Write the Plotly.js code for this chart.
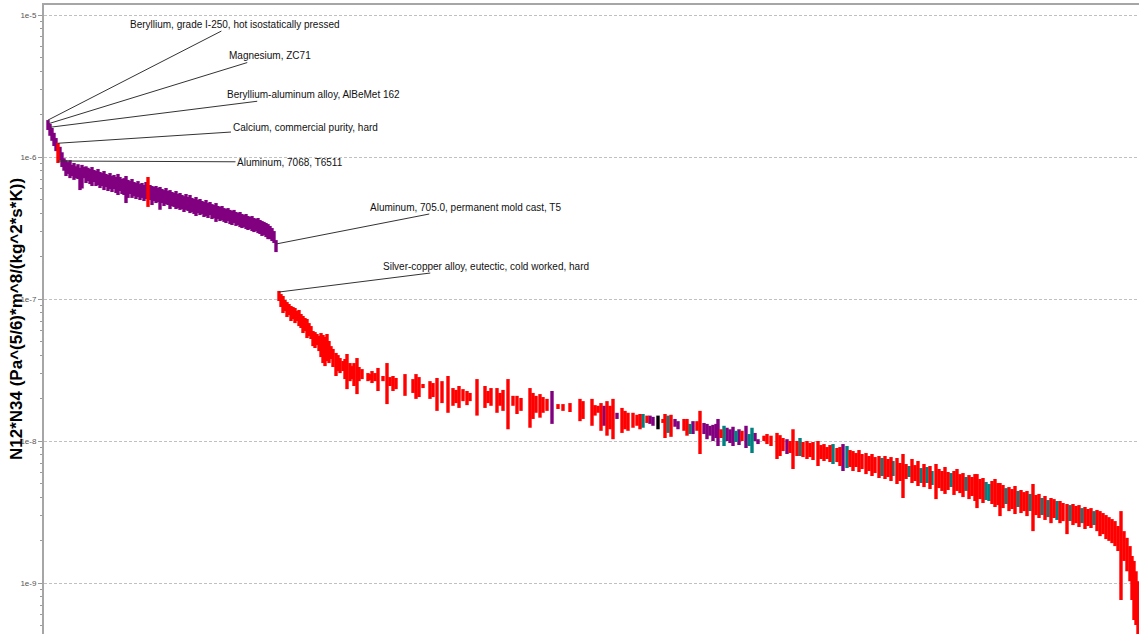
<!DOCTYPE html>
<html>
<head>
<meta charset="utf-8">
<script src="https://cdn.plot.ly/plotly-3.0.1.min.js"></script>
<style>html,body{margin:0;padding:0;background:#fff;}#chart{width:1139px;height:634px;}</style>
</head>
<body>
<div id="chart"></div>
<script>
// ---- data: material rank (sorted) and low/high value of N12*N34 ----
const purpleRank = [4,6,8,10,12,16,18,20,22,24,26,28,30,32,34,36,38,40,42,44,46,48,50,52,54,56,58,60,62,64,66,68,70,72,74,76,78,80,82,
  84,86,88,90,92,94,96,98,100,102,106,108,110,112,114,116,
  118,120,122,124,126,128,130,132,134,136,138,140,142,144,146,148,150,152,154,156,158,160,162,164,166,168,170,172,174,176,178,180,182,184,186,188,190,192,194,196,198,200,202,204,206,208,210,212,214,216,218,220,222,224,226,228,230,232,
  508,560,573,606,609,631,634,649,660,663,666,669,672,674,683,686,689,695,702,711,714,743,799];
const purpleHigh = [1.82e-6,1.71e-6,1.60e-6,1.48e-6,1.36e-6,1.18e-6,1.08e-6,9.8e-7,9.5e-7,9.2e-7,9.5e-7,8.8e-7,9.07e-7,8.6e-7,8.9e-7,8.4e-7,8.8e-7,8.5e-7,8.6e-7,8.4e-7,8.23e-7,8.5e-7,8.1e-7,7.97e-7,8.23e-7,7.84e-7,7.71e-7,7.97e-7,7.6e-7,7.47e-7,7.71e-7,7.35e-7,7.47e-7,7.23e-7,7.6e-7,7.23e-7,7.0e-7,7.1e-7,7.35e-7,
  6.9e-7,6.77e-7,7.0e-7,6.67e-7,6.56e-7,6.77e-7,6.45e-7,6.56e-7,6.35e-7,6.67e-7,6.35e-7,6.25e-7,6.15e-7,6.25e-7,6.05e-7,6.15e-7,
  5.95e-7,5.85e-7,6.05e-7,5.76e-7,5.85e-7,5.67e-7,5.58e-7,5.76e-7,5.49e-7,5.58e-7,5.4e-7,5.3e-7,5.49e-7,5.23e-7,5.4e-7,5.15e-7,5.06e-7,5.23e-7,4.98e-7,5.06e-7,4.9e-7,4.82e-7,4.98e-7,4.74e-7,4.82e-7,4.66e-7,4.59e-7,4.74e-7,4.52e-7,4.45e-7,4.52e-7,4.37e-7,4.3e-7,4.37e-7,4.24e-7,4.17e-7,4.24e-7,4.1e-7,4.03e-7,4.1e-7,3.97e-7,3.9e-7,3.97e-7,3.84e-7,3.78e-7,3.84e-7,3.72e-7,3.66e-7,3.72e-7,3.6e-7,3.54e-7,3.49e-7,3.43e-7,3.37e-7,3.27e-7,3.16e-7,3.01e-7,2.6e-7,
  2.25e-8,1.77e-8,1.58e-8,1.51e-8,1.48e-8,1.43e-8,1.38e-8,1.38e-8,1.34e-8,1.32e-8,1.28e-8,1.30e-8,1.32e-8,1.43e-8,1.24e-8,1.21e-8,1.26e-8,1.21e-8,1.28e-8,1.14e-8,1.03e-8,1.03e-8,9.52e-9];
const purpleLow = [1.55e-6,1.41e-6,1.30e-6,1.195e-6,1.10e-6,9.5e-7,8.5e-7,8.0e-7,7.35e-7,7.6e-7,7.1e-7,7.35e-7,6.9e-7,7.1e-7,7.0e-7,5.85e-7,6.0e-7,7.1e-7,6.56e-7,6.77e-7,6.45e-7,6.25e-7,6.67e-7,6.25e-7,6.35e-7,6.05e-7,6.25e-7,5.85e-7,6.15e-7,5.76e-7,5.95e-7,5.67e-7,5.95e-7,5.58e-7,5.4e-7,5.76e-7,5.49e-7,5.4e-7,4.74e-7,
  5.15e-7,5.49e-7,5.15e-7,5.3e-7,5.06e-7,5.23e-7,4.98e-7,5.15e-7,4.9e-7,5.06e-7,4.98e-7,4.59e-7,4.9e-7,4.74e-7,4.82e-7,4.25e-7,
  4.74e-7,4.52e-7,4.66e-7,4.59e-7,4.3e-7,4.52e-7,4.45e-7,4.3e-7,4.37e-7,4.24e-7,4.3e-7,4.1e-7,4.24e-7,4.17e-7,4.03e-7,4.1e-7,3.97e-7,3.84e-7,4.03e-7,3.9e-7,3.97e-7,3.78e-7,3.84e-7,3.72e-7,3.9e-7,3.66e-7,3.72e-7,3.49e-7,3.66e-7,3.54e-7,3.6e-7,3.49e-7,3.43e-7,3.54e-7,3.37e-7,3.32e-7,3.43e-7,3.27e-7,3.32e-7,3.21e-7,3.16e-7,3.21e-7,3.11e-7,3.06e-7,3.11e-7,3.01e-7,2.96e-7,3.01e-7,2.91e-7,2.87e-7,2.78e-7,2.82e-7,2.73e-7,2.64e-7,2.64e-7,2.56e-7,2.48e-7,2.14e-7,
  1.32e-8,1.28e-8,1.43e-8,1.32e-8,1.28e-8,1.26e-8,1.21e-8,1.12e-8,1.12e-8,1.03e-8,1.09e-8,1.0e-8,1.05e-8,9.22e-9,1.0e-8,9.68e-9,9.22e-9,9.37e-9,8.93e-9,1.0e-8,9.52e-9,8.1e-9,6.15e-9];

const redRank = [14,104,
  235,237,239,241,243,245,247,249,251,253,255,257,259,261,263,265,267,269,271,273,275,277,279,281,283,285,287,289,292,294,296,
  299,301,303,306,308,310,313,315,318,324,326,328,331,334,339,343,346,349,352,
  361,369,372,375,379,386,389,393,398,404,409,412,415,419,423,426,433,441,444,447,453,456,459,464,469,473,477,486,489,492,496,499,503,514,519,526,536,539,548,551,554,
  557,563,566,569,578,581,584,589,593,596,603,619,621,627,640,643,653,656,677,698,720,723,727,733,736,739,746,749,753,759,763,766,769,774,777,780,783,786,793,796,806,809,812,815,818,822,825,828,831,835,841,844,847,853,
  856,859,862,868,871,874,880,886,892,895,898,901,904,910,913,916,919,925,928,931,933,936,939,948,951,954,956,959,965,968,971,977,980,983,989,992,995,1001,1007,1010,1016,1019,1023,1029,1032,1035,1041,1044,1047,1053,1056,1059,1062,1065,1068,1071,1074,1077,1080,1083,1086,1088,1090,1092,1094];
const redHigh = [1.255e-6,7.23e-7,
  1.14e-7,1.084e-7,1.05e-7,9.84e-8,9.52e-8,9.22e-8,8.93e-8,8.78e-8,8.64e-8,8.23e-8,8.37e-8,7.84e-8,7.59e-8,7.35e-8,7.23e-8,6.77e-8,6.45e-8,5.95e-8,5.85e-8,5.67e-8,5.49e-8,5.76e-8,5.58e-8,5.4e-8,5.67e-8,5.06e-8,4.66e-8,4.45e-8,4.17e-8,4.03e-8,3.84e-8,
  3.66e-8,3.78e-8,4.1e-8,3.54e-8,3.37e-8,3.54e-8,3.84e-8,3.32e-8,3.21e-8,3.01e-8,2.96e-8,3.11e-8,3.01e-8,3.27e-8,2.87e-8,3.54e-8,2.82e-8,2.87e-8,2.78e-8,
  2.96e-8,2.73e-8,2.96e-8,2.82e-8,2.52e-8,2.64e-8,2.56e-8,2.78e-8,2.64e-8,2.87e-8,2.36e-8,2.29e-8,2.44e-8,2.32e-8,2.25e-8,2.18e-8,2.73e-8,2.44e-8,2.25e-8,2.36e-8,2.36e-8,2.18e-8,2.29e-8,2.73e-8,2.08e-8,2.08e-8,2.01e-8,2.36e-8,2.18e-8,2.08e-8,2.14e-8,2.04e-8,1.98e-8,1.82e-8,1.82e-8,1.85e-8,1.98e-8,1.91e-8,1.98e-8,1.79e-8,1.77e-8,
  1.85e-8,1.91e-8,1.77e-8,1.98e-8,1.71e-8,1.63e-8,1.58e-8,1.58e-8,1.53e-8,1.55e-8,1.51e-8,1.43e-8,1.55e-8,1.53e-8,1.43e-8,1.43e-8,1.38e-8,1.63e-8,1.21e-8,1.18e-8,1.09e-8,1.12e-8,1.09e-8,1.14e-8,1.10e-8,1.05e-8,1.0e-8,1.21e-8,1.0e-8,9.84e-9,1.0e-8,9.68e-9,9.84e-9,1.0e-8,9.37e-9,9.52e-9,9.07e-9,9.37e-9,8.93e-9,9.07e-9,8.64e-9,8.5e-9,8.23e-9,8.64e-9,8.1e-9,8.23e-9,7.84e-9,8.1e-9,7.71e-9,7.84e-9,7.84e-9,7.47e-9,7.71e-9,7.59e-9,
  7.0e-9,8.1e-9,6.89e-9,7.47e-9,6.77e-9,7.23e-9,6.89e-9,6.67e-9,6.89e-9,6.35e-9,6.15e-9,6.56e-9,6.05e-9,6.15e-9,6.35e-9,5.85e-9,5.95e-9,5.76e-9,5.58e-9,5.85e-9,5.85e-9,5.4e-9,5.49e-9,5.23e-9,5.4e-9,5.06e-9,5.06e-9,4.9e-9,4.74e-9,4.59e-9,4.82e-9,4.52e-9,4.37e-9,4.45e-9,4.98e-9,4.17e-9,4.24e-9,4.1e-9,3.97e-9,3.9e-9,3.78e-9,3.66e-9,3.6e-9,3.6e-9,3.49e-9,3.54e-9,3.43e-9,3.32e-9,3.37e-9,3.27e-9,3.21e-9,3.11e-9,3.01e-9,2.91e-9,2.82e-9,2.73e-9,2.52e-9,3.21e-9,2.32e-9,2.08e-9,1.82e-9,1.55e-9,1.43e-9,1.21e-9,1.03e-9];
const redLow = [9.07e-7,4.45e-7,
  9.68e-8,8.78e-8,7.97e-8,8.23e-8,7.47e-8,7.71e-8,7.0e-8,7.23e-8,6.77e-8,7.0e-8,6.45e-8,6.25e-8,5.76e-8,5.95e-8,5.31e-8,5.49e-8,5.23e-8,4.66e-8,4.52e-8,4.74e-8,4.3e-8,3.9e-8,3.54e-8,3.37e-8,3.66e-8,3.54e-8,3.78e-8,3.32e-8,2.87e-8,3.11e-8,3.01e-8,
  3.11e-8,2.73e-8,2.32e-8,2.64e-8,2.73e-8,2.44e-8,2.14e-8,2.64e-8,2.73e-8,2.64e-8,2.68e-8,2.56e-8,2.64e-8,2.25e-8,2.64e-8,1.82e-8,2.44e-8,2.25e-8,2.32e-8,
  2.08e-8,2.18e-8,1.98e-8,2.04e-8,2.36e-8,1.98e-8,2.04e-8,1.63e-8,1.85e-8,1.58e-8,1.77e-8,1.85e-8,1.71e-8,1.91e-8,1.79e-8,1.91e-8,1.51e-8,1.71e-8,1.85e-8,1.77e-8,1.58e-8,1.77e-8,1.63e-8,1.21e-8,1.77e-8,1.55e-8,1.63e-8,1.24e-8,1.43e-8,1.58e-8,1.46e-8,1.58e-8,1.63e-8,1.68e-8,1.63e-8,1.60e-8,1.38e-8,1.43e-8,1.28e-8,1.51e-8,1.58e-8,
  1.18e-8,1.09e-8,1.21e-8,1.03e-8,1.14e-8,1.21e-8,1.18e-8,1.24e-8,1.28e-8,1.21e-8,1.34e-8,1.34e-8,1.05e-8,1.07e-8,1.18e-8,1.09e-8,1.18e-8,8.1e-9,1.05e-8,1.0e-8,1.0e-8,9.52e-9,9.22e-9,7.47e-9,7.84e-9,8.5e-9,8.23e-9,6.35e-9,7.84e-9,7.71e-9,7.47e-9,7.71e-9,7.35e-9,6.67e-9,7.47e-9,7.23e-9,7.47e-9,7.11e-9,7.11e-9,6.67e-9,6.56e-9,6.15e-9,6.56e-9,6.05e-9,6.35e-9,5.85e-9,6.15e-9,5.67e-9,5.95e-9,5.49e-9,5.4e-9,5.58e-9,5.23e-9,4.98e-9,
  5.23e-9,3.97e-9,5.4e-9,5.06e-9,5.23e-9,4.82e-9,4.74e-9,4.59e-9,3.9e-9,4.66e-9,4.45e-9,4.24e-9,4.52e-9,4.17e-9,4.45e-9,4.3e-9,4.03e-9,3.9e-9,4.1e-9,3.78e-9,3.37e-9,3.9e-9,3.66e-9,3.6e-9,3.43e-9,3.54e-9,2.96e-9,3.37e-9,3.21e-9,3.32e-9,3.06e-9,3.11e-9,3.21e-9,2.96e-9,2.32e-9,3.01e-9,2.87e-9,2.78e-9,2.64e-9,2.87e-9,2.64e-9,2.73e-9,2.21e-9,2.56e-9,2.64e-9,2.48e-9,2.4e-9,2.52e-9,2.44e-9,2.32e-9,2.14e-9,2.21e-9,2.04e-9,1.98e-9,1.91e-9,1.82e-9,1.68e-9,7.59e-10,1.43e-9,1.21e-9,1.03e-9,7.59e-10,5.49e-10,5.06e-10,3.97e-10];

const tealRank = [599,624,646,680,692,705,708,756,789,803,838,849,865,877,883,888,907,922,942,945,962,974,986,998,1004,1013,1026,1038,1050];
const tealHigh = [1.55e-8,1.51e-8,1.32e-8,1.28e-8,1.18e-8,1.12e-8,1.24e-8,1.05e-8,9.52e-9,9.22e-9,7.59e-9,7.23e-9,6.67e-9,6.45e-9,6.56e-9,6.15e-9,5.95e-9,5.58e-9,5.15e-9,4.98e-9,4.66e-9,4.45e-9,4.24e-9,3.97e-9,3.84e-9,3.78e-9,3.54e-9,3.37e-9,3.21e-9];
const tealLow = [1.24e-8,1.14e-8,1.12e-8,9.22e-9,9.84e-9,9.22e-9,8.23e-9,7.84e-9,6.89e-9,6.45e-9,5.67e-9,5.67e-9,5.58e-9,5.06e-9,5.06e-9,4.9e-9,4.74e-9,4.45e-9,3.84e-9,3.78e-9,3.6e-9,3.43e-9,3.21e-9,3.01e-9,2.91e-9,2.78e-9,2.73e-9,2.64e-9,2.56e-9];

const blackRank = [614];
const blackHigh = [1.51e-8];
const blackLow = [1.21e-8];

// labelled materials
const annLabels = [
  "Beryllium, grade I-250, hot isostatically pressed",
  "Magnesium, ZC71",
  "Beryllium-aluminum alloy, AlBeMet 162",
  "Calcium, commercial purity, hard",
  "Aluminum, 7068, T6511",
  "Aluminum, 705.0, permanent mold cast, T5",
  "Silver-copper alloy, eutectic, cold worked, hard"
];
const annRank = [4, 5, 6, 14, 14, 232, 235];
const annValue = [1.82e-6, 1.72e-6, 1.62e-6, 1.25e-6, 9.37e-7, 2.44e-7, 1.12e-7];

const yTickVals = [1e-9, 1e-8, 1e-7, 1e-6, 1e-5];
const yTickText = ["1e-9", "1e-8", "1e-7", "1e-6", "1e-5"];
const yTitle = "N12*N34 (Pa^(5/6)*m^8/(kg^2*s*K))";

// ---- build ----
function segTrace(rank, lo, hi, color) {
  const x = [], y = [];
  for (let i = 0; i < rank.length; i++) {
    x.push(rank[i], rank[i], null);
    y.push(lo[i], hi[i], null);
  }
  return {type: 'scatter', mode: 'lines', x: x, y: y, connectgaps: false,
          line: {color: color, width: 3.4}, hoverinfo: 'skip', showlegend: false};
}

const traces = [
  segTrace(purpleRank, purpleLow, purpleHigh, 'rgb(128,0,128)'),
  segTrace(tealRank, tealLow, tealHigh, 'rgb(0,128,128)'),
  segTrace(blackRank, blackLow, blackHigh, 'rgb(0,0,0)'),
  segTrace(redRank, redLow, redHigh, 'rgb(255,0,0)')
];

const FONT = 'Liberation Sans, Arial, sans-serif';
const annOffsets = [[187,-96],[221,-68],[263,-33],[247,-16],[232,1],[189,-37],[207,-26]];
const annotations = annLabels.map((t, i) => ({
  x: annRank[i], y: Math.log10(annValue[i]), xref: 'x', yref: 'y',
  text: t, showarrow: true, arrowhead: 0, arrowwidth: 1, arrowcolor: '#333',
  ax: annOffsets[i][0], ay: annOffsets[i][1], standoff: 0,
  font: {family: FONT, size: 10, color: '#111'}
}));
// y-axis title drawn as rotated text next to the axis
annotations.push({
  xref: 'paper', yref: 'paper', x: -0.0251, y: 0.5, xanchor: 'center', yanchor: 'middle',
  text: yTitle, textangle: -90, showarrow: false,
  font: {family: FONT, size: 17, color: '#000', weight: 'bold'}
});

const minorVals = [];
for (let e = -10; e <= -5; e++) for (let d = 2; d <= 9; d++) minorVals.push(d * Math.pow(10, e));

const layout = {
  width: 1139, height: 634,
  margin: {l: 44, r: 0, t: 5, b: 0, pad: 0},
  paper_bgcolor: '#fff', plot_bgcolor: '#fff',
  font: {family: FONT},
  showlegend: false,
  xaxis: {range: [0, 1095], side: 'top', showline: true, linecolor: '#a6a6a6', linewidth: 2,
          showticklabels: false, ticks: '', showgrid: false, zeroline: false, fixedrange: true},
  yaxis: {type: 'log', range: [-9.359, -4.9296], showline: true, linecolor: '#a6a6a6', linewidth: 2,
          tickmode: 'array', tickvals: yTickVals, ticktext: yTickText,
          ticks: 'outside', ticklen: 4, tickcolor: '#999', tickwidth: 1,
          tickfont: {size: 8, color: '#555'},
          showgrid: true, gridcolor: '#c0c0c0', gridwidth: 1, griddash: '3px,2px',
          zeroline: false, automargin: false, fixedrange: true,
          minor: {tickmode: 'array', tickvals: minorVals, ticks: 'outside', ticklen: 2, tickcolor: '#999', showgrid: false}},
  annotations: annotations
};

Plotly.newPlot('chart', traces, layout, {staticPlot: true, displayModeBar: false});
</script>
</body>
</html>
